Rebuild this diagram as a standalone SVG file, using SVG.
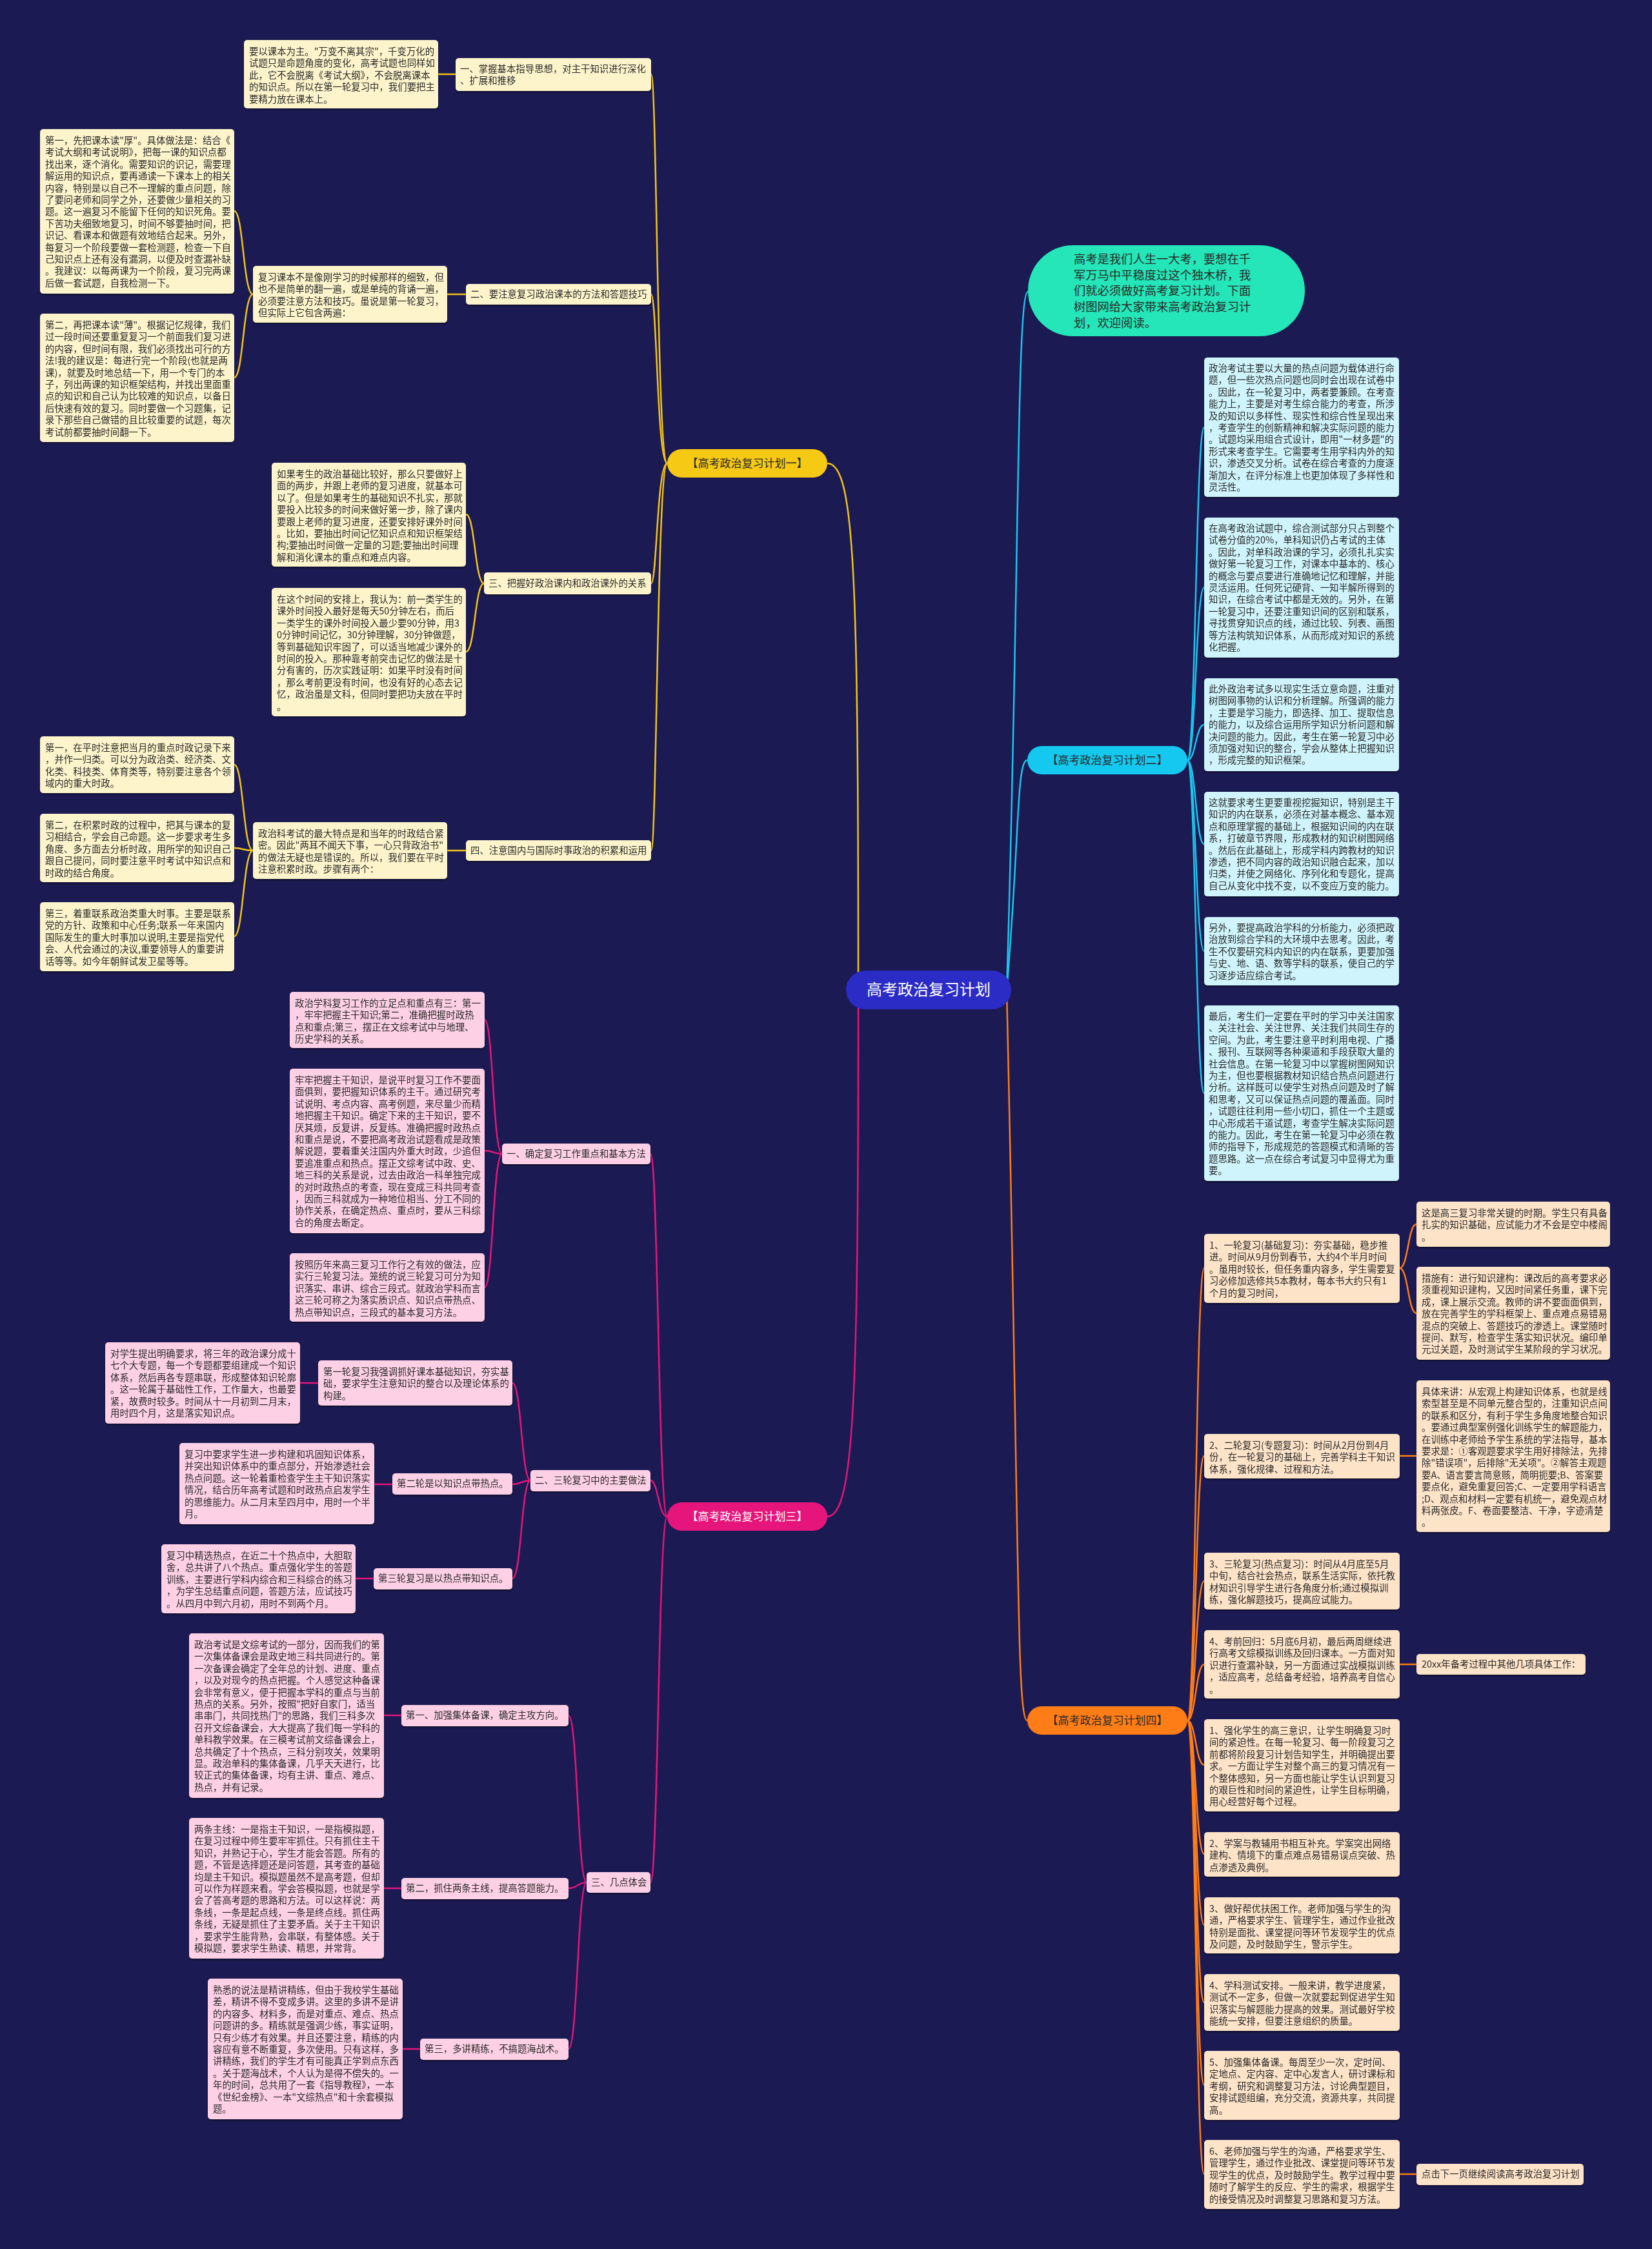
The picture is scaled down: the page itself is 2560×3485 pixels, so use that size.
<svg xmlns="http://www.w3.org/2000/svg" width="2560" height="3485" viewBox="0 0 2560 3485">
<defs>
<style>
.t{font-family:"Noto Sans CJK SC","Noto Sans",sans-serif;font-size:14.4px;fill:#2a2a2a}
.mt{font-family:"Noto Sans CJK SC","Noto Sans",sans-serif;font-size:17px}
.by{fill:#fdf4cb}
.bp{fill:#fdd0e6}
.bc{fill:#cff4fc}
.bo{fill:#fde3c8}
.box{filter:url(#sh)}
.ly{stroke:#f2c417;fill:none;stroke-width:2.5}
.lc{stroke:#19c6ee;fill:none;stroke-width:2.5}
.lp{stroke:#e5157c;fill:none;stroke-width:2.5}
.lo{stroke:#ff7d17;fill:none;stroke-width:2.5}
</style>
<filter id="sh" x="-5%" y="-5%" width="110%" height="115%"><feDropShadow dx="0" dy="2" stdDeviation="1" flood-color="#000" flood-opacity="0.45"/></filter>
</defs>
<rect x="0" y="0" width="2560" height="3485" fill="#1b1a52"/>

<g id="connectors">
<path class="ly" d="M1330,1534 C1330,900 1325,718 1282,718"/>
<path class="lp" d="M1330,1534 C1330,2150 1325,2350 1282,2350"/>
<path class="lc" d="M1560,1534 C1580,900 1575,452 1593,452"/>
<path class="lc" d="M1560,1534 C1580,1300 1575,1178 1592,1178"/>
<path class="lo" d="M1560,1534 C1580,2400 1575,2666 1592,2666"/>
<!-- branch 1 -->
<path class="ly" d="M1034,718 C1018,718 1018,115 1009,115"/>
<path class="ly" d="M1034,718 C1018,718 1018,456 1009,456"/>
<path class="ly" d="M1034,718 C1018,718 1018,904 1009,904"/>
<path class="ly" d="M1034,718 C1018,718 1018,1318 1009,1318"/>
<path class="ly" d="M706,115 L679,115"/>
<path class="ly" d="M722,456 L693,456"/>
<path class="ly" d="M392,456 C377,456 377,327 363,327"/>
<path class="ly" d="M392,456 C377,456 377,585 363,585"/>
<path class="ly" d="M750,904 C736,904 736,797 722,797"/>
<path class="ly" d="M750,904 C736,904 736,1010 722,1010"/>
<path class="ly" d="M722,1318 L693,1318"/>
<path class="ly" d="M392,1318 C377,1318 377,1185 363,1185"/>
<path class="ly" d="M392,1318 C377,1318 377,1314 363,1314"/>
<path class="ly" d="M392,1318 C377,1318 377,1451 363,1451"/>
<!-- branch 2 -->
<path class="lc" d="M1840,1178 C1853,1178 1853,662 1866,662"/>
<path class="lc" d="M1840,1178 C1853,1178 1853,910 1866,910"/>
<path class="lc" d="M1840,1178 C1853,1178 1853,1123 1866,1123"/>
<path class="lc" d="M1840,1178 C1853,1178 1853,1308 1866,1308"/>
<path class="lc" d="M1840,1178 C1853,1178 1853,1474 1866,1474"/>
<path class="lc" d="M1840,1178 C1853,1178 1853,1694 1866,1694"/>
<!-- branch 3 -->
<path class="lp" d="M1034,2350 C1020,2350 1020,1788 1008,1788"/>
<path class="lp" d="M1034,2350 C1020,2350 1020,2294 1008,2294"/>
<path class="lp" d="M1034,2350 C1020,2350 1020,2917 1008,2917"/>
<path class="lp" d="M778,1788 C764,1788 764,1580 751,1580"/>
<path class="lp" d="M778,1788 C764,1788 764,1783 751,1783"/>
<path class="lp" d="M778,1788 C764,1788 764,1995 751,1995"/>
<path class="lp" d="M822,2294 C808,2294 808,2143 794,2143"/>
<path class="lp" d="M822,2294 C808,2294 808,2300 794,2300"/>
<path class="lp" d="M822,2294 C808,2294 808,2446 794,2446"/>
<path class="lp" d="M493,2143 L465,2143"/>
<path class="lp" d="M608,2300 L580,2300"/>
<path class="lp" d="M579,2446 L551,2446"/>
<path class="lp" d="M909,2917 C895,2917 895,2658 881,2658"/>
<path class="lp" d="M909,2917 C895,2917 895,2926 881,2926"/>
<path class="lp" d="M909,2917 C895,2917 895,3175 881,3175"/>
<path class="lp" d="M622,2658 L595,2658"/>
<path class="lp" d="M622,2926 L595,2926"/>
<path class="lp" d="M651,3175 L624,3175"/>
<!-- branch 4 -->
<path class="lo" d="M1840,2666 C1853,2666 1853,1965 1866,1965"/>
<path class="lo" d="M1840,2666 C1853,2666 1853,2256 1866,2256"/>
<path class="lo" d="M1840,2666 C1853,2666 1853,2450 1866,2450"/>
<path class="lo" d="M1840,2666 C1853,2666 1853,2579 1866,2579"/>
<path class="lo" d="M1840,2666 C1853,2666 1853,2735 1866,2735"/>
<path class="lo" d="M1840,2666 C1853,2666 1853,2873 1866,2873"/>
<path class="lo" d="M1840,2666 C1853,2666 1853,2983 1866,2983"/>
<path class="lo" d="M1840,2666 C1853,2666 1853,3103 1866,3103"/>
<path class="lo" d="M1840,2666 C1853,2666 1853,3231 1866,3231"/>
<path class="lo" d="M1840,2666 C1853,2666 1853,3369 1866,3369"/>
<path class="lo" d="M2169,1965 C2182,1965 2182,1897 2195,1897"/>
<path class="lo" d="M2169,1965 C2182,1965 2182,2035 2195,2035"/>
<path class="lo" d="M2169,2256 L2195,2256"/>
<path class="lo" d="M2169,2579 L2195,2579"/>
<path class="lo" d="M2169,3369 L2195,3369"/>
</g>

<!-- center -->
<g id="center">
<rect x="1311" y="1504" width="256" height="60" rx="30" fill="#2b2bc6"/>
<text x="1439" y="1542" text-anchor="middle" font-family="Noto Sans CJK SC, sans-serif" font-size="24" fill="#ffffff">高考政治复习计划</text>
</g>

<g id="intro">
<rect x="1593" y="380" width="429" height="141" rx="70" fill="#24e6b8"/>
<text class="t" x="1664" style="font-size:18.3px" fill="#1a1a1a"><tspan x="1664" y="408">高考是我们人生一大考，要想在千</tspan><tspan x="1664" y="433">军万马中平稳度过这个独木桥，我</tspan><tspan x="1664" y="457">们就必须做好高考复习计划。下面</tspan><tspan x="1664" y="482">树图网给大家带来高考政治复习计</tspan><tspan x="1664" y="507">划，欢迎阅读。</tspan></text>
</g>

<!-- branch 1 -->
<g id="b1"><rect x="1034" y="696" width="248" height="44" rx="22" fill="#f6c915"/><text class="mt" x="1158" y="724" text-anchor="middle" fill="#2a2a2a">【高考政治复习计划一】</text></g>

<g id="n1a" class="box"><rect class="by" x="378" y="62" width="301" height="106" rx="5"/><text class="t"><tspan x="386" y="85">要以课本为主。"万变不离其宗"，千变万化的</tspan><tspan x="386" dy="18.4">试题只是命题角度的变化，高考试题也同样如</tspan><tspan x="386" dy="18.4">此，它不会脱离《考试大纲》，不会脱离课本</tspan><tspan x="386" dy="18.4">的知识点。所以在第一轮复习中，我们要把主</tspan><tspan x="386" dy="18.4">要精力放在课本上。</tspan></text></g>
<g id="n1l1" class="box"><rect class="by" x="706" y="90" width="303" height="51" rx="5"/><text class="t"><tspan x="713" y="112">一、掌握基本指导思想，对主干知识进行深化</tspan><tspan x="713" dy="18.4">、扩展和推移</tspan></text></g>
<g id="n1b" class="box"><rect class="by" x="62" y="200" width="301" height="255" rx="5"/><text class="t"><tspan x="70" y="223">第一，先把课本读"厚"。具体做法是：结合《</tspan><tspan x="70" dy="18.4">考试大纲和考试说明》，把每一课的知识点都</tspan><tspan x="70" dy="18.4">找出来，逐个消化。需要知识的识记，需要理</tspan><tspan x="70" dy="18.4">解运用的知识点，要再通读一下课本上的相关</tspan><tspan x="70" dy="18.4">内容，特别是以自己不一理解的重点问题，除</tspan><tspan x="70" dy="18.4">了要问老师和同学之外，还要做少量相关的习</tspan><tspan x="70" dy="18.4">题。这一遍复习不能留下任何的知识死角。要</tspan><tspan x="70" dy="18.4">下苦功夫细致地复习，时间不够要抽时间，把</tspan><tspan x="70" dy="18.4">识记、看课本和做题有效地结合起来。另外，</tspan><tspan x="70" dy="18.4">每复习一个阶段要做一套检测题，检查一下自</tspan><tspan x="70" dy="18.4">己知识点上还有没有漏洞，以便及时查漏补缺</tspan><tspan x="70" dy="18.4">。我建议：以每两课为一个阶段，复习完两课</tspan><tspan x="70" dy="18.4">后做一套试题，自我检测一下。</tspan></text></g>
<g id="n1c" class="box"><rect class="by" x="392" y="412" width="301" height="88" rx="5"/><text class="t"><tspan x="400" y="435">复习课本不是像刚学习的时候那样的细致，但</tspan><tspan x="400" dy="18.4">也不是简单的翻一遍，或是单纯的背诵一遍，</tspan><tspan x="400" dy="18.4">必须要注意方法和技巧。虽说是第一轮复习，</tspan><tspan x="400" dy="18.4">但实际上它包含两遍：</tspan></text></g>
<g id="n1l2" class="box"><rect class="by" x="722" y="440" width="287" height="32" rx="5"/><text class="t" x="729" y="461">二、要注意复习政治课本的方法和答题技巧</text></g>
<g id="n1d" class="box"><rect class="by" x="62" y="486" width="301" height="199" rx="5"/><text class="t"><tspan x="70" y="509">第二，再把课本读"薄"。根据记忆规律，我们</tspan><tspan x="70" dy="18.4">过一段时间还要重复复习一个前面我们复习进</tspan><tspan x="70" dy="18.4">的内容，但时间有限，我们必须找出可行的方</tspan><tspan x="70" dy="18.4">法!我的建议是：每进行完一个阶段(也就是两</tspan><tspan x="70" dy="18.4">课)，就要及时地总结一下，用一个专门的本</tspan><tspan x="70" dy="18.4">子，列出两课的知识框架结构，并找出里面重</tspan><tspan x="70" dy="18.4">点的知识和自己认为比较难的知识点，以备日</tspan><tspan x="70" dy="18.4">后快速有效的复习。同时要做一个习题集，记</tspan><tspan x="70" dy="18.4">录下那些自己做错的且比较重要的试题，每次</tspan><tspan x="70" dy="18.4">考试前都要抽时间翻一下。</tspan></text></g>
<g id="n1e" class="box"><rect class="by" x="421" y="717" width="301" height="161" rx="5"/><text class="t"><tspan x="429" y="740">如果考生的政治基础比较好，那么只要做好上</tspan><tspan x="429" dy="18.4">面的两步，并跟上老师的复习进度，就基本可</tspan><tspan x="429" dy="18.4">以了。但是如果考生的基础知识不扎实，那就</tspan><tspan x="429" dy="18.4">要投入比较多的时间来做好第一步，除了课内</tspan><tspan x="429" dy="18.4">要跟上老师的复习进度，还要安排好课外时间</tspan><tspan x="429" dy="18.4">。比如，要抽出时间记忆知识点和知识框架结</tspan><tspan x="429" dy="18.4">构;要抽出时间做一定量的习题;要抽出时间理</tspan><tspan x="429" dy="18.4">解和消化课本的重点和难点内容。</tspan></text></g>
<g id="n1l3" class="box"><rect class="by" x="750" y="887" width="259" height="34" rx="5"/><text class="t" x="757" y="909">三、把握好政治课内和政治课外的关系</text></g>
<g id="n1f" class="box"><rect class="by" x="421" y="911" width="301" height="199" rx="5"/><text class="t"><tspan x="429" y="934">在这个时间的安排上，我认为：前一类学生的</tspan><tspan x="429" dy="18.4">课外时间投入最好是每天50分钟左右，而后</tspan><tspan x="429" dy="18.4">一类学生的课外时间投入最少要90分钟，用3</tspan><tspan x="429" dy="18.4">0分钟时间记忆，30分钟理解，30分钟做题，</tspan><tspan x="429" dy="18.4">等到基础知识牢固了，可以适当地减少课外的</tspan><tspan x="429" dy="18.4">时间的投入。那种靠考前突击记忆的做法是十</tspan><tspan x="429" dy="18.4">分有害的，历次实践证明：如果平时没有时间</tspan><tspan x="429" dy="18.4">，那么考前更没有时间，也没有好的心态去记</tspan><tspan x="429" dy="18.4">忆，政治虽是文科，但同时要把功夫放在平时</tspan><tspan x="429" dy="18.4">。</tspan></text></g>
<g id="n1g" class="box"><rect class="by" x="62" y="1141" width="301" height="88" rx="5"/><text class="t"><tspan x="70" y="1164">第一，在平时注意把当月的重点时政记录下来</tspan><tspan x="70" dy="18.4">，并作一归类。可以分为政治类、经济类、文</tspan><tspan x="70" dy="18.4">化类、科技类、体育类等，特别要注意各个领</tspan><tspan x="70" dy="18.4">域内的重大时政。</tspan></text></g>
<g id="n1h" class="box"><rect class="by" x="62" y="1261" width="301" height="106" rx="5"/><text class="t"><tspan x="70" y="1284">第二，在积累时政的过程中，把其与课本的复</tspan><tspan x="70" dy="18.4">习相结合，学会自己命题。这一步要求考生多</tspan><tspan x="70" dy="18.4">角度、多方面去分析时政，用所学的知识自己</tspan><tspan x="70" dy="18.4">跟自己提问，同时要注意平时考试中知识点和</tspan><tspan x="70" dy="18.4">时政的结合角度。</tspan></text></g>
<g id="n1i" class="box"><rect class="by" x="62" y="1398" width="301" height="107" rx="5"/><text class="t"><tspan x="70" y="1421">第三，着重联系政治类重大时事。主要是联系</tspan><tspan x="70" dy="18.4">党的方针、政策和中心任务;联系一年来国内</tspan><tspan x="70" dy="18.4">国际发生的重大时事加以说明,主要是指党代</tspan><tspan x="70" dy="18.4">会、人代会通过的决议,重要领导人的重要讲</tspan><tspan x="70" dy="18.4">话等等。如今年朝鲜试发卫星等等。</tspan></text></g>
<g id="n1j" class="box"><rect class="by" x="392" y="1274" width="301" height="88" rx="5"/><text class="t"><tspan x="400" y="1297">政治科考试的最大特点是和当年的时政结合紧</tspan><tspan x="400" dy="18.4">密。因此"两耳不闻天下事，一心只背政治书"</tspan><tspan x="400" dy="18.4">的做法无疑也是错误的。所以，我们要在平时</tspan><tspan x="400" dy="18.4">注意积累时政。步骤有两个：</tspan></text></g>
<g id="n1l4" class="box"><rect class="by" x="722" y="1302" width="287" height="32" rx="5"/><text class="t" x="729" y="1323">四、注意国内与国际时事政治的积累和运用</text></g>

<!-- branch 2 -->
<g id="b2"><rect x="1592" y="1156" width="248" height="44" rx="22" fill="#14c8ef"/><text class="mt" x="1716" y="1184" text-anchor="middle" fill="#2a2a2a">【高考政治复习计划二】</text></g>
<g id="n2a" class="box"><rect class="bc" x="1866" y="554" width="302" height="216" rx="5"/><text class="t"><tspan x="1873" y="576">政治考试主要以大量的热点问题为载体进行命</tspan><tspan x="1873" dy="18.4">题，但一些次热点问题也同时会出现在试卷中</tspan><tspan x="1873" dy="18.4">。因此，在一轮复习中，两者要兼顾。在考查</tspan><tspan x="1873" dy="18.4">能力上，主要是对考生综合能力的考查，所涉</tspan><tspan x="1873" dy="18.4">及的知识以多样性、现实性和综合性呈现出来</tspan><tspan x="1873" dy="18.4">，考查学生的创新精神和解决实际问题的能力</tspan><tspan x="1873" dy="18.4">。试题均采用组合式设计，即用"一材多题"的</tspan><tspan x="1873" dy="18.4">形式来考查学生。它需要考生用学科内外的知</tspan><tspan x="1873" dy="18.4">识，渗透交叉分析。试卷在综合考查的力度逐</tspan><tspan x="1873" dy="18.4">渐加大，在评分标准上也更加体现了多样性和</tspan><tspan x="1873" dy="18.4">灵活性。</tspan></text></g>
<g id="n2b" class="box"><rect class="bc" x="1866" y="802" width="302" height="217" rx="5"/><text class="t"><tspan x="1873" y="824">在高考政治试题中，综合测试部分只占到整个</tspan><tspan x="1873" dy="18.4">试卷分值的20%，单科知识仍占考试的主体</tspan><tspan x="1873" dy="18.4">。因此，对单科政治课的学习，必须扎扎实实</tspan><tspan x="1873" dy="18.4">做好第一轮复习工作，对课本中基本的、核心</tspan><tspan x="1873" dy="18.4">的概念与要点要进行准确地记忆和理解，并能</tspan><tspan x="1873" dy="18.4">灵活运用。任何死记硬背、一知半解所得到的</tspan><tspan x="1873" dy="18.4">知识，在综合考试中都是无效的。另外，在第</tspan><tspan x="1873" dy="18.4">一轮复习中，还要注重知识间的区别和联系，</tspan><tspan x="1873" dy="18.4">寻找贯穿知识点的线，通过比较、列表、画图</tspan><tspan x="1873" dy="18.4">等方法构筑知识体系，从而形成对知识的系统</tspan><tspan x="1873" dy="18.4">化把握。</tspan></text></g>
<g id="n2c" class="box"><rect class="bc" x="1866" y="1051" width="302" height="144" rx="5"/><text class="t"><tspan x="1873" y="1073">此外政治考试多以现实生活立意命题，注重对</tspan><tspan x="1873" dy="18.4">树图网事物的认识和分析理解。所强调的能力</tspan><tspan x="1873" dy="18.4">，主要是学习能力，即选择、加工、提取信息</tspan><tspan x="1873" dy="18.4">的能力，以及综合运用所学知识分析问题和解</tspan><tspan x="1873" dy="18.4">决问题的能力。因此，考生在第一轮复习中必</tspan><tspan x="1873" dy="18.4">须加强对知识的整合，学会从整体上把握知识</tspan><tspan x="1873" dy="18.4">，形成完整的知识框架。</tspan></text></g>
<g id="n2d" class="box"><rect class="bc" x="1866" y="1227" width="302" height="162" rx="5"/><text class="t"><tspan x="1873" y="1249">这就要求考生更要重视挖掘知识，特别是主干</tspan><tspan x="1873" dy="18.4">知识的内在联系，必须在对基本概念、基本观</tspan><tspan x="1873" dy="18.4">点和原理掌握的基础上，根据知识间的内在联</tspan><tspan x="1873" dy="18.4">系，打破章节界限，形成教材的知识树图网络</tspan><tspan x="1873" dy="18.4">。然后在此基础上，形成学科内跨教材的知识</tspan><tspan x="1873" dy="18.4">渗透，把不同内容的政治知识融合起来，加以</tspan><tspan x="1873" dy="18.4">归类，并使之网络化、序列化和专题化，提高</tspan><tspan x="1873" dy="18.4">自己从变化中找不变，以不变应万变的能力。</tspan></text></g>
<g id="n2e" class="box"><rect class="bc" x="1866" y="1421" width="302" height="106" rx="5"/><text class="t"><tspan x="1873" y="1443">另外，要提高政治学科的分析能力，必须把政</tspan><tspan x="1873" dy="18.4">治放到综合学科的大环境中去思考。因此，考</tspan><tspan x="1873" dy="18.4">生不仅要研究科内知识的内在联系，更要加强</tspan><tspan x="1873" dy="18.4">与史、地、语、数等学科的联系，使自己的学</tspan><tspan x="1873" dy="18.4">习逐步适应综合考试。</tspan></text></g>
<g id="n2f" class="box"><rect class="bc" x="1866" y="1558" width="302" height="272" rx="5"/><text class="t"><tspan x="1873" y="1580">最后，考生们一定要在平时的学习中关注国家</tspan><tspan x="1873" dy="18.4">、关注社会、关注世界、关注我们共同生存的</tspan><tspan x="1873" dy="18.4">空间。为此，考生要注意平时利用电视、广播</tspan><tspan x="1873" dy="18.4">、报刊、互联网等各种渠道和手段获取大量的</tspan><tspan x="1873" dy="18.4">社会信息。在第一轮复习中以掌握树图网知识</tspan><tspan x="1873" dy="18.4">为主，但也要根据教材知识结合热点问题进行</tspan><tspan x="1873" dy="18.4">分析。这样既可以使学生对热点问题及时了解</tspan><tspan x="1873" dy="18.4">和思考，又可以保证热点问题的覆盖面。同时</tspan><tspan x="1873" dy="18.4">，试题往往利用一些小切口，抓住一个主题或</tspan><tspan x="1873" dy="18.4">中心形成若干道试题，考查学生解决实际问题</tspan><tspan x="1873" dy="18.4">的能力。因此，考生在第一轮复习中必须在教</tspan><tspan x="1873" dy="18.4">师的指导下，形成规范的答题模式和清晰的答</tspan><tspan x="1873" dy="18.4">题思路。这一点在综合考试复习中显得尤为重</tspan><tspan x="1873" dy="18.4">要。</tspan></text></g>

<!-- branch 3 -->
<g id="b3"><rect x="1034" y="2328" width="248" height="44" rx="22" fill="#e5157c"/><text class="mt" x="1158" y="2356" text-anchor="middle" fill="#ffffff">【高考政治复习计划三】</text></g>
<g id="n3a" class="box"><rect class="bp" x="449" y="1537" width="302" height="87" rx="5"/><text class="t"><tspan x="457" y="1560">政治学科复习工作的立足点和重点有三：第一</tspan><tspan x="457" dy="18.4">，牢牢把握主干知识;第二，准确把握时政热</tspan><tspan x="457" dy="18.4">点和重点;第三，摆正在文综考试中与地理、</tspan><tspan x="457" dy="18.4">历史学科的关系。</tspan></text></g>
<g id="n3b" class="box"><rect class="bp" x="449" y="1656" width="302" height="255" rx="5"/><text class="t"><tspan x="457" y="1679">牢牢把握主干知识，是说平时复习工作不要面</tspan><tspan x="457" dy="18.4">面俱到，要把握知识体系的主干。通过研究考</tspan><tspan x="457" dy="18.4">试说明、考点内容、高考例题，来尽量少而精</tspan><tspan x="457" dy="18.4">地把握主干知识。确定下来的主干知识，要不</tspan><tspan x="457" dy="18.4">厌其烦，反复讲，反复练。准确把握时政热点</tspan><tspan x="457" dy="18.4">和重点是说，不要把高考政治试题看成是政策</tspan><tspan x="457" dy="18.4">解说题，要着重关注国内外重大时政，少追但</tspan><tspan x="457" dy="18.4">要追准重点和热点。摆正文综考试中政、史、</tspan><tspan x="457" dy="18.4">地三科的关系是说，过去由政治一科单独完成</tspan><tspan x="457" dy="18.4">的对时政热点的考查，现在变成三科共同考查</tspan><tspan x="457" dy="18.4">，因而三科就成为一种地位相当、分工不同的</tspan><tspan x="457" dy="18.4">协作关系，在确定热点、重点时，要从三科综</tspan><tspan x="457" dy="18.4">合的角度去断定。</tspan></text></g>
<g id="n3c" class="box"><rect class="bp" x="449" y="1942" width="302" height="106" rx="5"/><text class="t"><tspan x="457" y="1965">按照历年来高三复习工作行之有效的做法，应</tspan><tspan x="457" dy="18.4">实行三轮复习法。笼统的说三轮复习可分为知</tspan><tspan x="457" dy="18.4">识落实、串讲、综合三段式。就政治学科而言</tspan><tspan x="457" dy="18.4">这三轮可称之为落实质识点、知识点带热点、</tspan><tspan x="457" dy="18.4">热点带知识点，三段式的基本复习方法。</tspan></text></g>
<g id="n3l1" class="box"><rect class="bp" x="778" y="1772" width="230" height="32" rx="5"/><text class="t" x="785" y="1793">一、确定复习工作重点和基本方法</text></g>
<g id="n3d" class="box"><rect class="bp" x="163" y="2080" width="302" height="126" rx="5"/><text class="t"><tspan x="171" y="2103">对学生提出明确要求，将三年的政治课分成十</tspan><tspan x="171" dy="18.4">七个大专题，每一个专题都要组建成一个知识</tspan><tspan x="171" dy="18.4">体系，然后再各专题串联，形成整体知识轮廓</tspan><tspan x="171" dy="18.4">。这一轮属于基础性工作，工作量大，也最要</tspan><tspan x="171" dy="18.4">紧，故费时较多。时间从十一月初到二月末，</tspan><tspan x="171" dy="18.4">用时四个月，这是落实知识点。</tspan></text></g>
<g id="n3e" class="box"><rect class="bp" x="493" y="2108" width="301" height="70" rx="5"/><text class="t"><tspan x="501" y="2131">第一轮复习我强调抓好课本基础知识，夯实基</tspan><tspan x="501" dy="18.4">础，要求学生注意知识的整合以及理论体系的</tspan><tspan x="501" dy="18.4">构建。</tspan></text></g>
<g id="n3f" class="box"><rect class="bp" x="278" y="2236" width="302" height="126" rx="5"/><text class="t"><tspan x="286" y="2259">复习中要求学生进一步构建和巩固知识体系，</tspan><tspan x="286" dy="18.4">并突出知识体系中的重点部分，开始渗透社会</tspan><tspan x="286" dy="18.4">热点问题。这一轮着重检查学生主干知识落实</tspan><tspan x="286" dy="18.4">情况，结合历年高考试题和时政热点启发学生</tspan><tspan x="286" dy="18.4">的思维能力。从二月末至四月中，用时一个半</tspan><tspan x="286" dy="18.4">月。</tspan></text></g>
<g id="n3g" class="box"><rect class="bp" x="608" y="2283" width="186" height="33" rx="5"/><text class="t" x="615" y="2304">第二轮是以知识点带热点。</text></g>
<g id="n3l2" class="box"><rect class="bp" x="822" y="2278" width="186" height="33" rx="5"/><text class="t" x="829" y="2299">二、三轮复习中的主要做法</text></g>
<g id="n3h" class="box"><rect class="bp" x="250" y="2393" width="301" height="107" rx="5"/><text class="t"><tspan x="258" y="2416">复习中精选热点，在近二十个热点中，大胆取</tspan><tspan x="258" dy="18.4">舍，总共讲了八个热点。重点强化学生的答题</tspan><tspan x="258" dy="18.4">训练，主要进行学科内综合和三科综合的练习</tspan><tspan x="258" dy="18.4">，为学生总结重点问题，答题方法，应试技巧</tspan><tspan x="258" dy="18.4">。从四月中到六月初，用时不到两个月。</tspan></text></g>
<g id="n3i" class="box"><rect class="bp" x="579" y="2430" width="215" height="33" rx="5"/><text class="t" x="586" y="2451">第三轮复习是以热点带知识点。</text></g>
<g id="n3j" class="box"><rect class="bp" x="293" y="2531" width="302" height="255" rx="5"/><text class="t"><tspan x="301" y="2554">政治考试是文综考试的一部分，因而我们的第</tspan><tspan x="301" dy="18.4">一次集体备课会是政史地三科共同进行的。第</tspan><tspan x="301" dy="18.4">一次备课会确定了全年总的计划、进度、重点</tspan><tspan x="301" dy="18.4">，以及对现今的热点把握。个人感觉这种备课</tspan><tspan x="301" dy="18.4">会非常有意义，便于把握本学科的重点与当前</tspan><tspan x="301" dy="18.4">热点的关系。另外，按照"把好自家门，适当</tspan><tspan x="301" dy="18.4">串串门，共同找热门"的思路，我们三科多次</tspan><tspan x="301" dy="18.4">召开文综备课会，大大提高了我们每一学科的</tspan><tspan x="301" dy="18.4">单科教学效果。在三模考试前文综备课会上，</tspan><tspan x="301" dy="18.4">总共确定了十个热点，三科分别攻关，效果明</tspan><tspan x="301" dy="18.4">显。政治单科的集体备课，几乎天天进行，比</tspan><tspan x="301" dy="18.4">较正式的集体备课，均有主讲、重点、难点、</tspan><tspan x="301" dy="18.4">热点，并有记录。</tspan></text></g>
<g id="n3k" class="box"><rect class="bp" x="622" y="2642" width="259" height="33" rx="5"/><text class="t" x="629" y="2663">第一、加强集体备课，确定主攻方向。</text></g>
<g id="n3l" class="box"><rect class="bp" x="293" y="2817" width="302" height="218" rx="5"/><text class="t"><tspan x="301" y="2840">两条主线：一是指主干知识，一是指模拟题，</tspan><tspan x="301" dy="18.4">在复习过程中师生要牢牢抓住。只有抓住主干</tspan><tspan x="301" dy="18.4">知识，并熟记于心，学生才能会答题。所有的</tspan><tspan x="301" dy="18.4">题，不管是选择题还是问答题，其考查的基础</tspan><tspan x="301" dy="18.4">均是主干知识。模拟题虽然不是高考题，但却</tspan><tspan x="301" dy="18.4">可以作为样题来看。学会答模拟题，也就是学</tspan><tspan x="301" dy="18.4">会了答高考题的思路和方法。可以这样说：两</tspan><tspan x="301" dy="18.4">条线，一条是起点线，一条是终点线。抓住两</tspan><tspan x="301" dy="18.4">条线，无疑是抓住了主要矛盾。关于主干知识</tspan><tspan x="301" dy="18.4">，要求学生能背熟，会串联，有整体感。关于</tspan><tspan x="301" dy="18.4">模拟题，要求学生熟读、精思，并常背。</tspan></text></g>
<g id="n3m" class="box"><rect class="bp" x="622" y="2910" width="259" height="33" rx="5"/><text class="t" x="629" y="2931">第二，抓住两条主线，提高答题能力。</text></g>
<g id="n3l3" class="box"><rect class="bp" x="909" y="2901" width="99" height="32" rx="5"/><text class="t" x="916" y="2922">三、几点体会</text></g>
<g id="n3n" class="box"><rect class="bp" x="322" y="3066" width="302" height="218" rx="5"/><text class="t"><tspan x="330" y="3089">熟悉的说法是精讲精练，但由于我校学生基础</tspan><tspan x="330" dy="18.4">差，精讲不得不变成多讲。这里的多讲不是讲</tspan><tspan x="330" dy="18.4">的内容多、材料多，而是对重点、难点、热点</tspan><tspan x="330" dy="18.4">问题讲的多。精练就是强调少练，事实证明，</tspan><tspan x="330" dy="18.4">只有少练才有效果。并且还要注意，精练的内</tspan><tspan x="330" dy="18.4">容应有意不断重复，多次使用。只有这样，多</tspan><tspan x="330" dy="18.4">讲精练，我们的学生才有可能真正学到点东西</tspan><tspan x="330" dy="18.4">。关于题海战术，个人认为是得不偿失的。一</tspan><tspan x="330" dy="18.4">年的时间，总共用了一套《指导教程》，一本</tspan><tspan x="330" dy="18.4">《世纪金榜》、一本"文综热点"和十余套模拟</tspan><tspan x="330" dy="18.4">题。</tspan></text></g>
<g id="n3o" class="box"><rect class="bp" x="651" y="3159" width="230" height="33" rx="5"/><text class="t" x="658" y="3180">第三，多讲精练，不搞题海战术。</text></g>

<!-- branch 4 -->
<g id="b4"><rect x="1592" y="2644" width="248" height="44" rx="22" fill="#ff7d17"/><text class="mt" x="1716" y="2672" text-anchor="middle" fill="#2a2a2a">【高考政治复习计划四】</text></g>
<g id="n4a" class="box"><rect class="bo" x="1866" y="1912" width="303" height="107" rx="5"/><text class="t"><tspan x="1874" y="1935">1、一轮复习(基础复习)：夯实基础，稳步推</tspan><tspan x="1874" dy="18.4">进。时间从9月份到春节，大约4个半月时间</tspan><tspan x="1874" dy="18.4">。虽用时较长，但任务重内容多，学生需要复</tspan><tspan x="1874" dy="18.4">习必修加选修共5本教材，每本书大约只有1</tspan><tspan x="1874" dy="18.4">个月的复习时间，</tspan></text></g>
<g id="n4b" class="box"><rect class="bo" x="2195" y="1862" width="300" height="70" rx="5"/><text class="t"><tspan x="2203" y="1885">这是高三复习非常关键的时期。学生只有具备</tspan><tspan x="2203" dy="18.4">扎实的知识基础，应试能力才不会是空中楼阁</tspan><tspan x="2203" dy="18.4">。</tspan></text></g>
<g id="n4c" class="box"><rect class="bo" x="2195" y="1963" width="300" height="144" rx="5"/><text class="t"><tspan x="2203" y="1986">措施有：进行知识建构：课改后的高考要求必</tspan><tspan x="2203" dy="18.4">须重视知识建构，又因时间紧任务重，课下完</tspan><tspan x="2203" dy="18.4">成，课上展示交流。教师的讲不要面面俱到，</tspan><tspan x="2203" dy="18.4">放在完善学生的学科框架上、重点难点易错易</tspan><tspan x="2203" dy="18.4">混点的突破上、答题技巧的渗透上。课堂随时</tspan><tspan x="2203" dy="18.4">提问、默写，检查学生落实知识状况。编印单</tspan><tspan x="2203" dy="18.4">元过关题，及时测试学生某阶段的学习状况。</tspan></text></g>
<g id="n4d" class="box"><rect class="bo" x="2195" y="2139" width="300" height="235" rx="5"/><text class="t"><tspan x="2203" y="2162">具体来讲：从宏观上构建知识体系，也就是线</tspan><tspan x="2203" dy="18.4">索型甚至是不同单元整合型的，注重知识点间</tspan><tspan x="2203" dy="18.4">的联系和区分，有利于学生多角度地整合知识</tspan><tspan x="2203" dy="18.4">。要通过典型案例强化训练学生的解题能力，</tspan><tspan x="2203" dy="18.4">在训练中老师给予学生系统的学法指导，基本</tspan><tspan x="2203" dy="18.4">要求是：①客观题要求学生用好排除法，先排</tspan><tspan x="2203" dy="18.4">除"错误项"，后排除"无关项"。②解答主观题</tspan><tspan x="2203" dy="18.4">要A、语言要言简意赅，简明扼要;B、答案要</tspan><tspan x="2203" dy="18.4">要点化，避免重复回答;C、一定要用学科语言</tspan><tspan x="2203" dy="18.4">;D、观点和材料一定要有机统一，避免观点材</tspan><tspan x="2203" dy="18.4">料两张皮。F、卷面要整洁、干净，字迹清楚</tspan><tspan x="2203" dy="18.4">。</tspan></text></g>
<g id="n4e" class="box"><rect class="bo" x="1866" y="2222" width="303" height="69" rx="5"/><text class="t"><tspan x="1874" y="2245">2、二轮复习(专题复习)：时间从2月份到4月</tspan><tspan x="1874" dy="18.4">份，在一轮复习的基础上，完善学科主干知识</tspan><tspan x="1874" dy="18.4">体系，强化规律、过程和方法。</tspan></text></g>
<g id="n4f" class="box"><rect class="bo" x="1866" y="2406" width="303" height="88" rx="5"/><text class="t"><tspan x="1874" y="2429">3、三轮复习(热点复习)：时间从4月底至5月</tspan><tspan x="1874" dy="18.4">中旬，结合社会热点，联系生活实际，依托教</tspan><tspan x="1874" dy="18.4">材知识引导学生进行各角度分析;通过模拟训</tspan><tspan x="1874" dy="18.4">练，强化解题技巧，提高应试能力。</tspan></text></g>
<g id="n4g" class="box"><rect class="bo" x="1866" y="2526" width="303" height="106" rx="5"/><text class="t"><tspan x="1874" y="2549">4、考前回归：5月底6月初，最后两周继续进</tspan><tspan x="1874" dy="18.4">行高考文综模拟训练及回归课本。一方面对知</tspan><tspan x="1874" dy="18.4">识进行查漏补缺，另一方面通过实战模拟训练</tspan><tspan x="1874" dy="18.4">，适应高考，总结备考经验，培养高考自信心</tspan><tspan x="1874" dy="18.4">。</tspan></text></g>
<g id="n4h" class="box"><rect class="bo" x="2195" y="2563" width="262" height="32" rx="5"/><text class="t" x="2203" y="2584">20xx年备考过程中其他几项具体工作：</text></g>
<g id="n4i" class="box"><rect class="bo" x="1866" y="2664" width="303" height="143" rx="5"/><text class="t"><tspan x="1874" y="2687">1、强化学生的高三意识，让学生明确复习时</tspan><tspan x="1874" dy="18.4">间的紧迫性。在每一轮复习、每一阶段复习之</tspan><tspan x="1874" dy="18.4">前都将阶段复习计划告知学生，并明确提出要</tspan><tspan x="1874" dy="18.4">求。一方面让学生对整个高三的复习情况有一</tspan><tspan x="1874" dy="18.4">个整体感知，另一方面也能让学生认识到复习</tspan><tspan x="1874" dy="18.4">的艰巨性和时间的紧迫性，让学生目标明确，</tspan><tspan x="1874" dy="18.4">用心经营好每个过程。</tspan></text></g>
<g id="n4j" class="box"><rect class="bo" x="1866" y="2839" width="303" height="69" rx="5"/><text class="t"><tspan x="1874" y="2862">2、学案与教辅用书相互补充。学案突出网络</tspan><tspan x="1874" dy="18.4">建构、情境下的重点难点易错易误点突破、热</tspan><tspan x="1874" dy="18.4">点渗透及典例。</tspan></text></g>
<g id="n4k" class="box"><rect class="bo" x="1866" y="2940" width="303" height="87" rx="5"/><text class="t"><tspan x="1874" y="2963">3、做好帮优扶困工作。老师加强与学生的沟</tspan><tspan x="1874" dy="18.4">通，严格要求学生、管理学生，通过作业批改</tspan><tspan x="1874" dy="18.4">特别是面批、课堂提问等环节发现学生的优点</tspan><tspan x="1874" dy="18.4">及问题，及时鼓励学生，警示学生。</tspan></text></g>
<g id="n4l" class="box"><rect class="bo" x="1866" y="3059" width="303" height="88" rx="5"/><text class="t"><tspan x="1874" y="3082">4、学科测试安排。一般来讲，教学进度紧，</tspan><tspan x="1874" dy="18.4">测试不一定多，但做一次就要起到促进学生知</tspan><tspan x="1874" dy="18.4">识落实与解题能力提高的效果。测试最好学校</tspan><tspan x="1874" dy="18.4">能统一安排，但要注意组织的质量。</tspan></text></g>
<g id="n4m" class="box"><rect class="bo" x="1866" y="3178" width="303" height="107" rx="5"/><text class="t"><tspan x="1874" y="3201">5、加强集体备课。每周至少一次，定时间、</tspan><tspan x="1874" dy="18.4">定地点、定内容、定中心发言人，研讨课标和</tspan><tspan x="1874" dy="18.4">考纲，研究和调整复习方法，讨论典型题目，</tspan><tspan x="1874" dy="18.4">安排试题组编，充分交流，资源共享，共同提</tspan><tspan x="1874" dy="18.4">高。</tspan></text></g>
<g id="n4n" class="box"><rect class="bo" x="1866" y="3316" width="303" height="107" rx="5"/><text class="t"><tspan x="1874" y="3339">6、老师加强与学生的沟通，严格要求学生、</tspan><tspan x="1874" dy="18.4">管理学生，通过作业批改、课堂提问等环节发</tspan><tspan x="1874" dy="18.4">现学生的优点，及时鼓励学生。教学过程中要</tspan><tspan x="1874" dy="18.4">随时了解学生的反应、学生的需求，根据学生</tspan><tspan x="1874" dy="18.4">的接受情况及时调整复习思路和复习方法。</tspan></text></g>
<g id="n4o" class="box"><rect class="bo" x="2195" y="3353" width="259" height="33" rx="5"/><text class="t" x="2203" y="3374">点击下一页继续阅读高考政治复习计划</text></g>
</svg>
